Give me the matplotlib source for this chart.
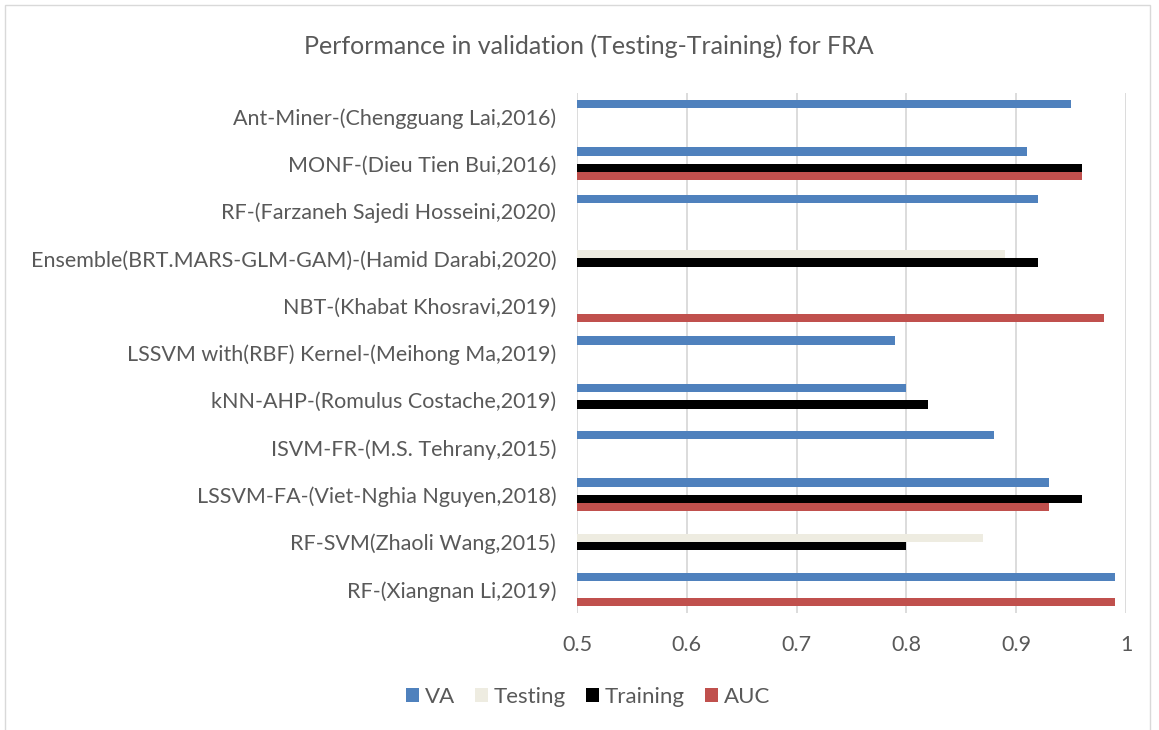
import numpy as np
import matplotlib.pyplot as plt
from matplotlib.patches import Rectangle

# data, bottom to top as on the chart
models = ["RF-(Xiangnan Li,2019)", "RF-SVM(Zhaoli Wang,2015)", "LSSVM-FA-(Viet-Nghia Nguyen,2018)",
          "ISVM-FR-(M.S. Tehrany,2015)", "kNN-AHP-(Romulus Costache,2019)",
          "LSSVM with(RBF) Kernel-(Meihong Ma,2019)", "NBT-(Khabat Khosravi,2019)",
          "Ensemble(BRT.MARS-GLM-GAM)-(Hamid Darabi,2020)", "RF-(Farzaneh Sajedi Hosseini,2020)",
          "MONF-(Dieu Tien Bui,2016)", "Ant-Miner-(Chengguang Lai,2016)"]
va = [0.99, np.nan, 0.93, 0.88, 0.80, 0.79, np.nan, np.nan, 0.92, 0.91, 0.95]
testing = [np.nan, 0.87, np.nan, np.nan, np.nan, np.nan, np.nan, 0.89, np.nan, np.nan, np.nan]
training = [np.nan, 0.80, 0.96, np.nan, 0.82, np.nan, np.nan, 0.92, np.nan, 0.96, np.nan]
auc = [0.99, np.nan, 0.93, np.nan, np.nan, np.nan, 0.98, np.nan, np.nan, 0.96, np.nan]

plt.rcParams['font.family'] = ['Lato', 'DejaVu Sans']
txt = '#595959'

fig = plt.figure(figsize=(11.59, 7.30), dpi=100)
ax = fig.add_axes([577 / 1159, 117 / 730, 549 / 1159, 520 / 730])

ind = np.arange(len(models))
h = 0.175
base = 0.5
series = [(va, 'VA', '#4F81BD'), (testing, 'Testing', '#EEECE1'),
          (training, 'Training', '#000000'), (auc, 'AUC', '#C0504D')]
offs = [1.5 * h, 0.5 * h, -0.5 * h, -1.5 * h]
for (vals, name, col), off in zip(series, offs):
    v = np.array(vals, dtype=float)
    ax.barh(ind + off, v - base, height=h, left=base, color=col, label=name, zorder=3)

ax.set_xlim(0.5, 1.0)
ax.set_ylim(-0.5, len(models) - 0.5)
ax.set_xticks([0.5, 0.6, 0.7, 0.8, 0.9, 1.0])
ax.set_xticklabels(["0.5", "0.6", "0.7", "0.8", "0.9", "1"])
ax.set_yticks(ind)
ax.set_yticklabels(models)
ax.tick_params(length=0, labelsize=15.5, colors=txt)
ax.tick_params(axis='y', pad=15)
ax.tick_params(axis='x', pad=16)
ax.grid(axis='x', color='#D9D9D9', linewidth=1.3, zorder=0)
for s in ax.spines.values():
    s.set_visible(False)

fig.text(589 / 1159, 1 - 46 / 730, "Performance in validation (Testing-Training) for FRA",
         ha='center', va='center', fontsize=18, color=txt)

fig.legend(loc='center', bbox_to_anchor=(588 / 1159, 1 - 697 / 730), ncol=4, frameon=False,
           fontsize=16, labelcolor=txt, handlelength=0.6, handleheight=0.6, columnspacing=0.9,
           handletextpad=0.25)

fig.patches.append(Rectangle((5 / 1159, -0.01), 1145 / 1159, 1 - 5 / 730 + 0.01, transform=fig.transFigure,
                             fill=False, edgecolor='#D9D9D9', linewidth=1))

fig.savefig("out.png", dpi=100)
